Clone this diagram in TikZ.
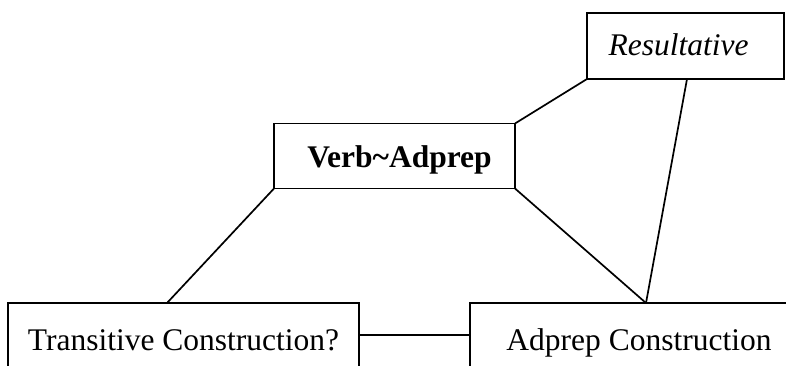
\documentclass[tikz,border=0pt]{standalone}
\usepackage{fontspec}
\setmainfont{Liberation Serif}
\begin{document}
\begin{tikzpicture}[x=1pt,y=-1pt,
  box/.style={draw, line width=1.7pt, inner sep=0pt, outer sep=0pt,
    font=\fontsize{31.5}{36}\selectfont},
  link/.style={line width=1.7pt}]
\useasboundingbox (0,0) rectangle (786,365);
\clip (0,0) rectangle (786,365);
% upper boxes
\node[box, minimum width=197pt, minimum height=66pt, text height=22pt, text depth=4pt]
  (res) at (685.5,46) {\itshape Resultative\kern14pt\relax};
\node[box, minimum width=241pt, minimum height=65pt, text height=22pt, text depth=0pt]
  (verb) at (394.5,156) {\kern10pt\bfseries Verb\char`\~Adprep};
% lower boxes (running past the lower edge)
\node[box, minimum width=351pt, minimum height=64pt, text height=30pt, text depth=0pt]
  (trans) at (183.5,335) {Transitive Construction?};
\node[box, minimum width=338pt, minimum height=64pt, text height=30pt, text depth=0pt]
  (adp) at (639,335) {Adprep Construction};
% connectors
\draw[link] (verb.south west) -- ([xshift=159pt]trans.north west);
\draw[link] (verb.south east) -- ([xshift=176pt]adp.north west);
\draw[link] (verb.north east) -- (res.south west);
\draw[link] ([xshift=100pt]res.south west) -- ([xshift=176pt]adp.north west);
\draw[link] (trans.east) -- (adp.west);
\end{tikzpicture}
\end{document}
